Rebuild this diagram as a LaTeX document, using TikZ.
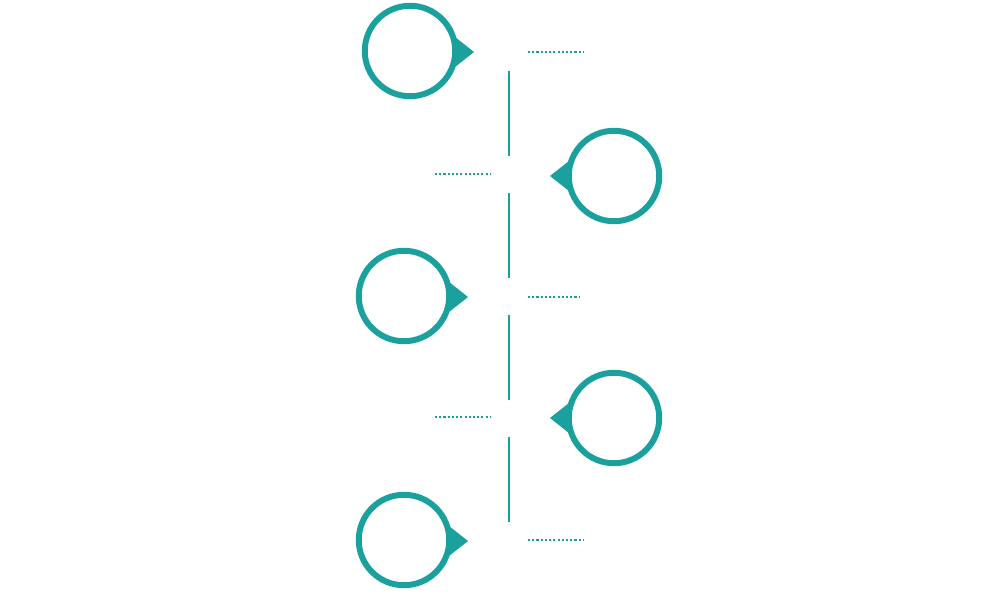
\documentclass[tikz,border=0pt]{standalone}
\definecolor{cor_teal}{HTML}{1AA19E}
\begin{document}
\begin{tikzpicture}[x=0.02cm,y=-0.02cm]
        \tikzset{
            marco/.style={
                circle,
                draw=cor_teal,
                fill=white,
                line width=3.4pt,
                minimum size=1.81cm
            },
            pontilhado/.style={
                cor_teal,
                line width=1pt,
                dash pattern=on 1.2pt off 1.2pt
            }
        }
        \useasboundingbox (0,0) rectangle (1000,597);

        % linha vertical
        \foreach \a/\b in {71/156,193/278,315/400,437/522} {
            \draw[cor_teal, line width=1.5pt] (509,\a) -- (509,\b);
        }

        % marcos da esquerda
        \foreach \n/\x/\y in {m1/410/51,m3/404/296,m5/404/540} {
            \fill[cor_teal] (\x+40,\y-18) -- (\x+64,\y+1) -- (\x+40,\y+20) -- cycle;
            \node[marco] (\n) at (\x,\y) {};
        }
        % marcos da direita
        \foreach \n/\x/\y in {m2/614/176,m4/614/418} {
            \fill[cor_teal] (\x-40,\y-19) -- (\x-64,\y) -- (\x-40,\y+19) -- cycle;
            \node[marco] (\n) at (\x,\y) {};
        }

        % tracos pontilhados
        \draw[pontilhado] (528,52) -- (583,52);
        \draw[pontilhado] (435,174) -- (490,174);
        \draw[pontilhado] (528,297) -- (580,297);
        \draw[pontilhado] (435,417) -- (490,417);
        \draw[pontilhado] (528,540) -- (583,540);

\end{tikzpicture}
\end{document}
